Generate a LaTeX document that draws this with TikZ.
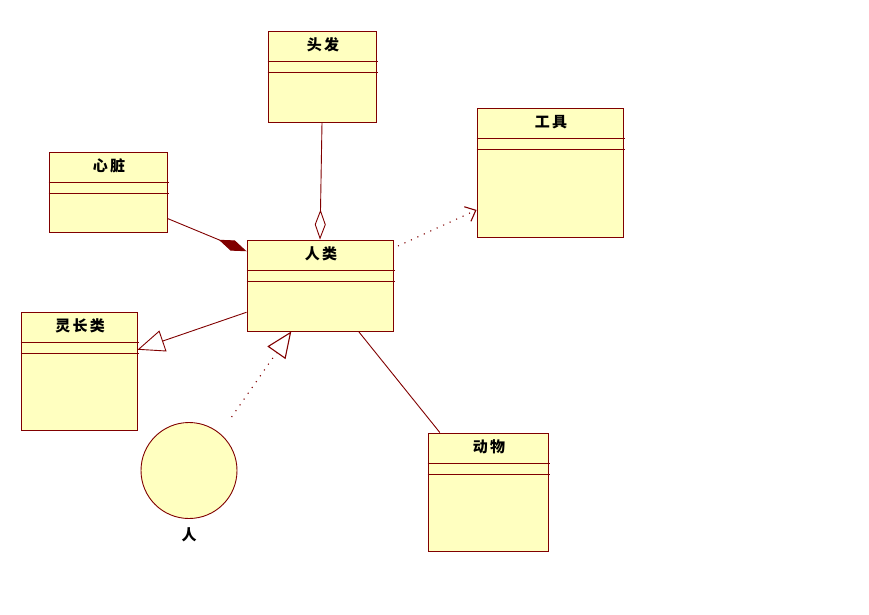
\documentclass[tikz,border=0pt]{standalone}
\usepackage{fontspec}
\newfontfamily\cjk[LetterSpace=15]{Noto Sans CJK SC}
\usetikzlibrary{arrows.meta,calc}
\definecolor{umlfill}{HTML}{FFFFC0}
\definecolor{umlred}{HTML}{800000}
\tikzset{
  umlclass/.style={draw=umlred, fill=umlfill, line width=0.9pt, inner sep=0pt},
  umlactor/.style={draw=umlred, fill=umlfill, line width=0.9pt, circle, inner sep=0pt, minimum size=96pt},
  classname/.style={font=\cjk\bfseries\fontsize{15}{17}\selectfont, inner sep=0pt},
  umlline/.style={draw=umlred, line width=0.9pt},
  dependency/.style={umlline, line width=1.1pt, dash pattern=on 1.1pt off 6pt}
}
\begin{document}
\begin{tikzpicture}[x=1pt, y=-1pt]
				\useasboundingbox (0,0) rectangle (869,614);
				% classes
				\node[umlclass, minimum width=108pt, minimum height=91pt] (toufa) at (322,76.5) {};
				\node[umlclass, minimum width=146pt, minimum height=129pt] (gongju) at (550,172.5) {};
				\node[umlclass, minimum width=118pt, minimum height=80pt] (xinzang) at (108,192) {};
				\node[umlclass, minimum width=146pt, minimum height=91pt] (renlei) at (320,285.5) {};
				\node[umlclass, minimum width=116pt, minimum height=118pt] (lingzhang) at (79,371) {};
				\node[umlclass, minimum width=120pt, minimum height=118pt] (dongwu) at (488,492) {};
				\node[umlactor] (ren) at (189,470.5) {};
				% compartments
				\foreach \c in {toufa,gongju,xinzang,renlei,lingzhang,dongwu} {
					\draw[umlline] ($(\c.north west)+(0,30.5)$) -- ($(\c.north east)+(2,30.5)$);
					\draw[umlline] ($(\c.north west)+(0,42)$) -- ($(\c.north east)+(2,42)$);
				}
				% names
				\node[classname] (toufa-t) at ($(toufa.north)+(1,14.5)$) {头发};
				\node[classname] (gongju-t) at ($(gongju.north)+(1,14.5)$) {工具};
				\node[classname] (xinzang-t) at ($(xinzang.north)+(1,14.5)$) {心脏};
				\node[classname] (renlei-t) at ($(renlei.north)+(1,14.5)$) {人类};
				\node[classname] (lingzhang-t) at ($(lingzhang.north)+(1,14.5)$) {灵长类};
				\node[classname] (dongwu-t) at ($(dongwu.north)+(1,14.5)$) {动物};
				\node[classname] (ren-t) at (189,535) {人};
				% relations
				\draw[umlline, -{Diamond[open, length=30pt, width=11pt]}] (toufa.south) -- (renlei.north);
				\draw[umlline, -{Diamond[length=30pt, width=11pt]}] (xinzang.-24) -- (renlei.155);
				\draw[dependency, shorten <=5pt, -{Straight Barb[length=9pt, width=16pt]}] (renlei.27) -- (gongju.-153);
				\draw[umlline, -{Triangle[open, length=27pt, width=22pt]}] (renlei.200) -- (lingzhang.20);
				\draw[dependency, shorten <=20pt, -{Triangle[open, length=26pt, width=22pt]}] (ren.50) -- (renlei.-122);
				\draw[umlline] (renlei.-50) -- (dongwu.129);
			\end{tikzpicture}
\end{document}
